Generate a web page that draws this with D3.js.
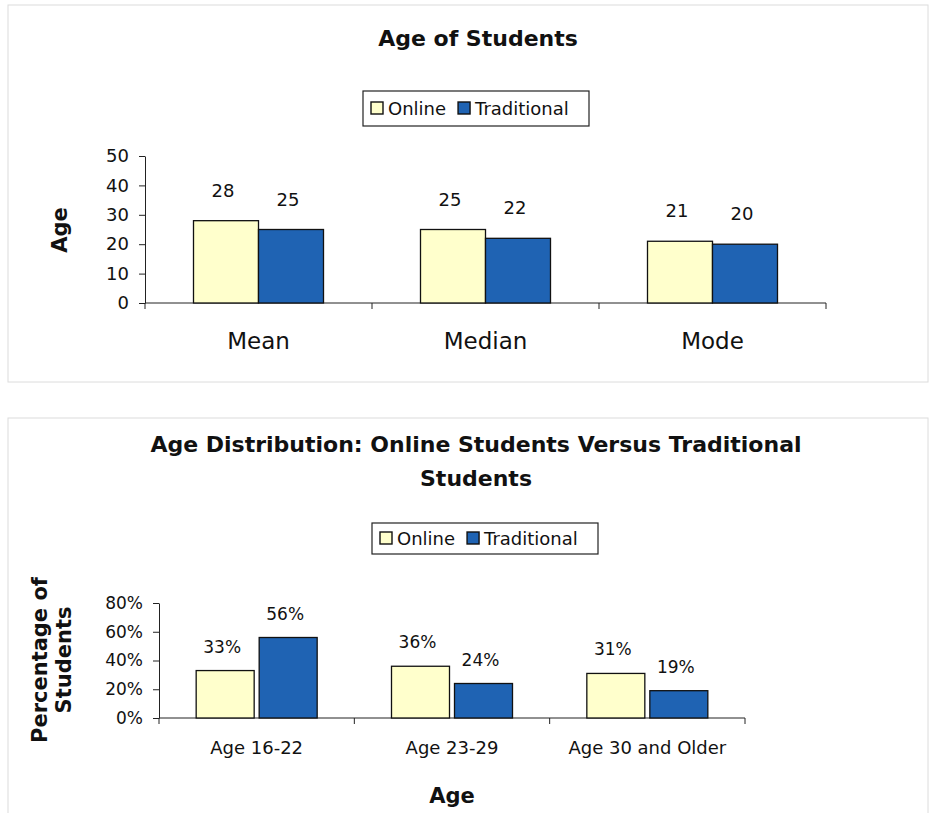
<!DOCTYPE html>
<html><head><meta charset="utf-8">
<script src="https://cdn.jsdelivr.net/npm/d3@7"></script>
<style>body{margin:0;background:#fff}svg text{font-family:"DejaVu Sans",Arial,sans-serif}</style>
</head><body><svg id="c" width="935" height="813"></svg>
<script>
// ---- data ----
const seriesNames = ["Online", "Traditional"];
const seriesColors = ["#FFFFCC", "#1F63B3"];

const ageCategories = ["Mean", "Median", "Mode"];
const ageOnline = [28, 25, 21];
const ageTraditional = [25, 22, 20];
const ageTicks = [0, 10, 20, 30, 40, 50];

const distCategories = ["Age 16-22", "Age 23-29", "Age 30 and Older"];
const distOnline = [33, 36, 31];
const distTraditional = [56, 24, 19];
const distTicks = [0, 20, 40, 60, 80];

const svg = d3.select("#c");
const FONT = "DejaVu Sans, Arial, sans-serif";

// frames (faint)
svg.append("rect").attr("x",8).attr("y",5).attr("width",920).attr("height",377)
  .attr("fill","none").attr("stroke","#dcdcdc").attr("stroke-width",1);
svg.append("rect").attr("x",8).attr("y",418).attr("width",920).attr("height",400)
  .attr("fill","none").attr("stroke","#dcdcdc").attr("stroke-width",1);

function legend(x0, y, w, h) {
  const g = svg.append("g");
  g.append("rect").attr("x",x0).attr("y",y).attr("width",w).attr("height",h)
    .attr("fill","#fff").attr("stroke","#222").attr("stroke-width",1.2);
  let x = x0 + 8;
  seriesNames.forEach((n,i)=>{
    g.append("rect").attr("x",x).attr("y",y+h/2-6.5).attr("width",12).attr("height",12)
      .attr("fill",seriesColors[i]).attr("stroke","#111").attr("stroke-width",1.4);
    const t = g.append("text").attr("x",x+17).attr("y",y+h/2+6.5).attr("font-size",18)
      .attr("fill","#111").text(n);
    x += 17 + t.node().getComputedTextLength() + 12;
  });
}

function chart(opts) {
  const {cats, a, b, ticks, x0, x1, y0, y1, max, fmt, barW, gap, labelOff, tickFont, catFont, catY, labFont} = opts;
  const x = d3.scaleBand().domain(cats).range([x0, x1]);
  const y = d3.scaleLinear().domain([0, max]).range([y0, y1]);
  const g = svg.append("g");
  const ya = d3.axisLeft(y).tickValues(ticks).tickFormat(fmt).tickSize(6).tickPadding(10).tickSizeOuter(0);
  const yg = g.append("g").attr("transform",`translate(${x0},0)`).call(ya);
  yg.select(".domain").attr("stroke","#222");
  yg.selectAll(".tick line").attr("stroke","#222");
  yg.selectAll("text").attr("font-size",tickFont).attr("fill","#111").attr("font-family",FONT);
  g.append("line").attr("x1",x0).attr("x2",x1).attr("y1",y0).attr("y2",y0).attr("stroke","#222");
  const bounds = [x0].concat(cats.map(c=>x(c)+x.bandwidth()));
  g.selectAll(".xt").data(bounds).enter().append("line")
    .attr("x1",d=>d).attr("x2",d=>d).attr("y1",y0).attr("y2",y0+6).attr("stroke","#222");
  g.selectAll(".cl").data(cats).enter().append("text")
    .attr("x",d=>x(d)+x.bandwidth()/2).attr("y",catY).attr("text-anchor","middle")
    .attr("font-size",catFont).attr("fill","#111").text(d=>d);
  [a,b].forEach((vals,si)=>{
    cats.forEach((c,i)=>{
      const cx = x(c)+x.bandwidth()/2;
      const bx = si===0 ? cx - barW - gap/2 : cx + gap/2;
      g.append("rect").attr("x",bx).attr("y",y(vals[i])).attr("width",barW)
        .attr("height",y0 - y(vals[i])).attr("fill",seriesColors[si])
        .attr("stroke","#111").attr("stroke-width",1.3);
      g.append("text").attr("x",bx+barW/2 - 3).attr("y",y(vals[i]) - labelOff)
        .attr("text-anchor","middle").attr("font-size",labFont).attr("fill","#111")
        .text(fmt(vals[i]));
    });
  });
}

// ---- chart 1 ----
svg.append("text").attr("x",478).attr("y",46).attr("text-anchor","middle")
  .attr("font-size",22).attr("font-weight","bold").attr("fill","#111").text("Age of Students");
legend(363, 91, 226, 35);
chart({cats:ageCategories, a:ageOnline, b:ageTraditional, ticks:ageTicks,
  x0:145, x1:826, y0:303, y1:156, max:50, fmt:d=>d, barW:65, gap:0, labelOff:24,
  tickFont:18, catFont:23, catY:349, labFont:18});
svg.append("text").attr("transform","translate(67,230) rotate(-90)").attr("text-anchor","middle")
  .attr("font-size",21).attr("font-weight","bold").attr("fill","#111").text("Age");

// ---- chart 2 ----
svg.append("text").attr("x",476).attr("y",452).attr("text-anchor","middle")
  .attr("font-size",22).attr("font-weight","bold").attr("fill","#111")
  .text("Age Distribution: Online Students Versus Traditional");
svg.append("text").attr("x",476).attr("y",486).attr("text-anchor","middle")
  .attr("font-size",22).attr("font-weight","bold").attr("fill","#111").text("Students");
legend(372, 523, 226, 31);
chart({cats:distCategories, a:distOnline, b:distTraditional, ticks:distTicks,
  x0:159, x1:745, y0:718, y1:603, max:80, fmt:d=>d+"%", barW:58, gap:5, labelOff:18,
  tickFont:17, catFont:18, catY:754, labFont:17});
svg.append("text").attr("x",452).attr("y",803).attr("text-anchor","middle")
  .attr("font-size",21).attr("font-weight","bold").attr("fill","#111").text("Age");
const yl = svg.append("text").attr("transform","translate(47,660) rotate(-90)")
  .attr("text-anchor","middle").attr("font-size",21).attr("font-weight","bold").attr("fill","#111");
yl.append("tspan").attr("x",0).attr("dy",0).text("Percentage of");
yl.append("tspan").attr("x",0).attr("dy",24).text("Students");
</script></body></html>
